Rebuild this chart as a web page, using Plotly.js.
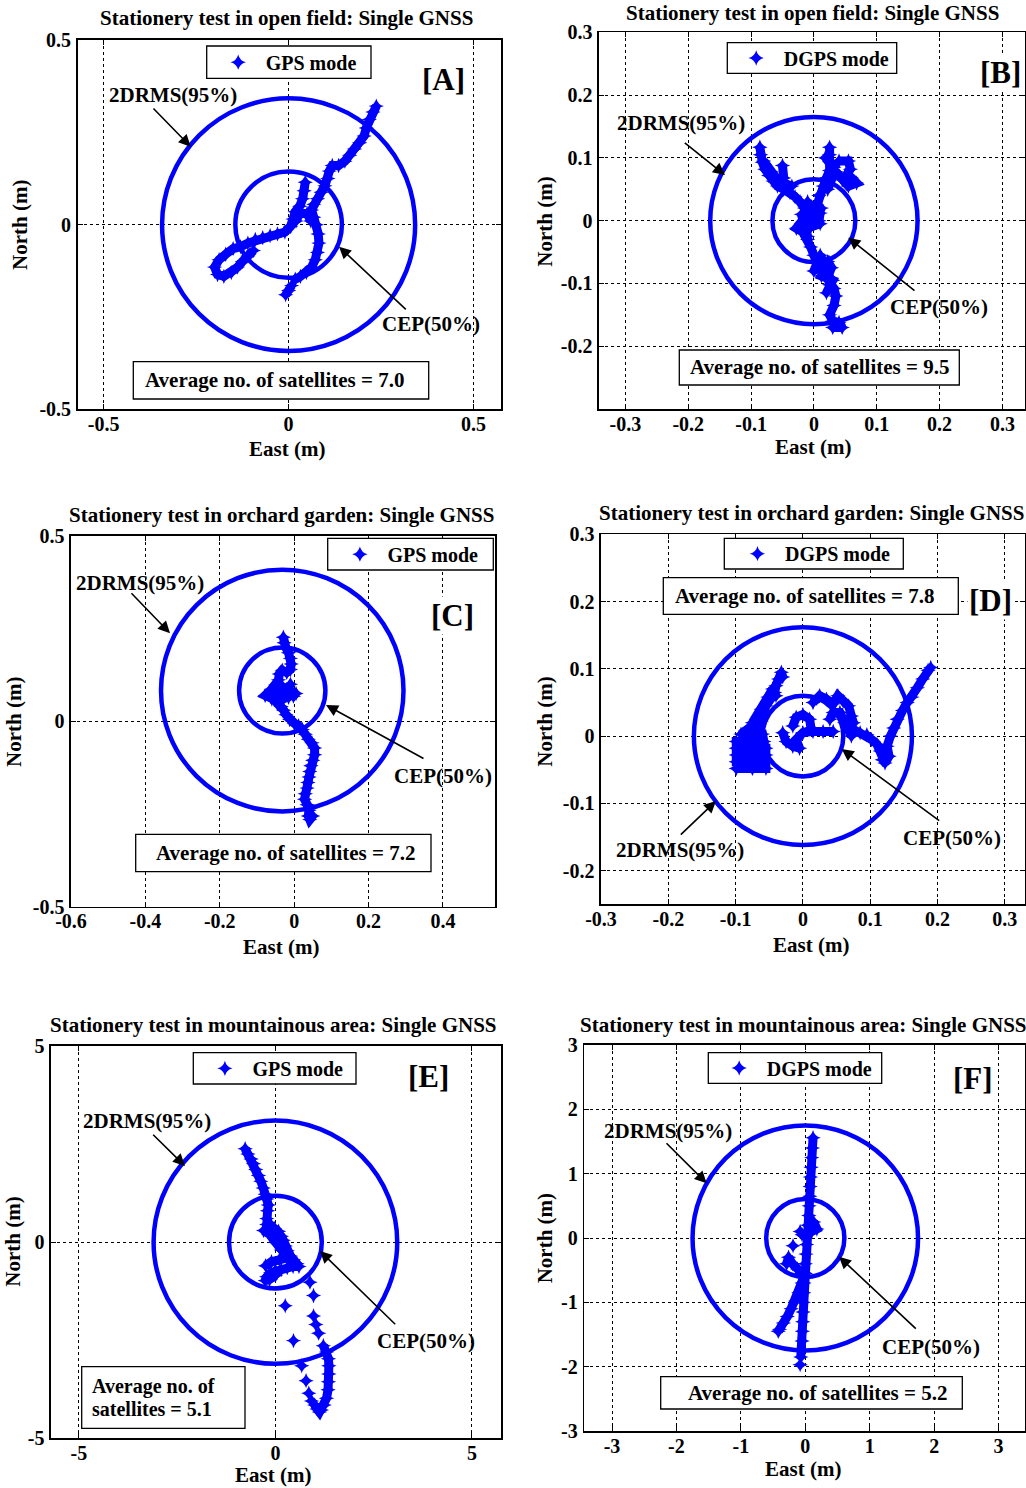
<!DOCTYPE html>
<html><head><meta charset="utf-8">
<script src="https://cdn.plot.ly/plotly-3.0.1.min.js"></script>
<style>body{margin:0;background:#fff}#chart{width:1026px;height:1488px}</style>
</head><body><div id="chart"></div>
<script>
// ---------------- DATA ----------------
const panelTitles = [
  'Stationery test in open field: Single GNSS',
  'Stationery test in open field: Single GNSS',
  'Stationery test in orchard garden: Single GNSS',
  'Stationery test in orchard garden: Single GNSS',
  'Stationery test in mountainous area: Single GNSS',
  'Stationery test in mountainous area: Single GNSS'
];
const modeNames = ['GPS mode','DGPS mode','GPS mode','DGPS mode','GPS mode','DGPS mode'];
const panelTags = ['[A]','[B]','[C]','[D]','[E]','[F]'];
const satelliteTexts = [
  ['Average no. of satellites = 7.0'],
  ['Average no. of satellites = 9.5'],
  ['Average no. of satellites = 7.2'],
  ['Average no. of satellites = 7.8'],
  ['Average no. of','satellites = 5.1'],
  ['Average no. of satellites = 5.2']
];
const drmsLabel = '2DRMS(95%)';
const cepLabel = 'CEP(50%)';
const eastTitle = 'East (m)';
const northTitle = 'North (m)';

// circle statistics (m)
const circleCenterEast  = [0, 0, -0.032, 0, 0, 0];
const circleCenterNorth = [0, 0, 0.083, 0, 0, 0];
const drmsRadius = [0.342, 0.165, 0.326, 0.162, 3.10, 1.75];
const cepRadius  = [0.144, 0.066, 0.116, 0.060, 1.18, 0.607];

// tick values / labels
const xTickVals = [
  [-0.5,0,0.5],
  [-0.3,-0.2,-0.1,0,0.1,0.2,0.3],
  [-0.6,-0.4,-0.2,0,0.2,0.4],
  [-0.3,-0.2,-0.1,0,0.1,0.2,0.3],
  [-5,0,5],
  [-3,-2,-1,0,1,2,3]
];
const xTickText = [
  ['-0.5','0','0.5'],
  ['-0.3','-0.2','-0.1','0','0.1','0.2','0.3'],
  ['-0.6','-0.4','-0.2','0','0.2','0.4'],
  ['-0.3','-0.2','-0.1','0','0.1','0.2','0.3'],
  ['-5','0','5'],
  ['-3','-2','-1','0','1','2','3']
];
const yTickVals = [
  [-0.5,0,0.5],
  [-0.3,-0.2,-0.1,0,0.1,0.2,0.3],
  [-0.5,0,0.5],
  [-0.2,-0.1,0,0.1,0.2,0.3],
  [-5,0,5],
  [-3,-2,-1,0,1,2,3]
];
const yTickText = [
  ['-0.5','0','0.5'],
  ['','-0.2','-0.1','0','0.1','0.2','0.3'],
  ['-0.5','0','0.5'],
  ['-0.2','-0.1','0','0.1','0.2','0.3'],
  ['-5','0','5'],
  ['-3','-2','-1','0','1','2','3']
];
const xRanges = [[-0.57,0.574],[-0.342,0.336],[-0.6,0.54],[-0.3,0.33],[-5.71,5.74],[-3.43,3.41]];
const yRanges = [[-0.5,0.5],[-0.3,0.3],[-0.5,0.5],[-0.25,0.3],[-5,5],[-3,3]];

// ---- position samples (East, North in m); null separates track pieces ----
const aEast = [0.237,0.228,0.218,0.210,0.204,0.192,0.178,0.165,0.152,0.135,0.118,0.110,0.106,0.098,0.088,0.078,0.068,0.062,0.068,0.075,0.080,0.082,0.078,0.072,0.062,0.048,0.032,0.018,
  null,0.045,0.042,0.038,0.030,0.018,0.012,0.005,-0.010,-0.030,-0.050,-0.070,-0.090,-0.110,-0.130,-0.150,-0.170,-0.188,-0.200,-0.192,-0.175,-0.155,-0.138,-0.125,-0.110,-0.095,
  null,0.020,0.030,0.050,0.060,
  null,0.008,0.000,-0.008];
const aNorth = [0.321,0.305,0.285,0.262,0.240,0.222,0.205,0.188,0.172,0.160,0.160,0.145,0.125,0.105,0.088,0.070,0.055,0.040,0.020,0.000,-0.025,-0.050,-0.075,-0.095,-0.115,-0.130,-0.140,-0.148,
  null,0.115,0.092,0.070,0.050,0.035,0.015,-0.005,-0.020,-0.025,-0.030,-0.035,-0.040,-0.050,-0.060,-0.065,-0.080,-0.095,-0.115,-0.135,-0.140,-0.130,-0.115,-0.100,-0.085,-0.070,
  null,0.010,0.030,0.030,0.010,
  null,-0.165,-0.178,-0.190];

const bEast = [-0.086,-0.085,-0.082,-0.078,-0.072,-0.065,-0.058,-0.048,-0.038,-0.030,-0.022,-0.015,-0.012,-0.020,-0.028,-0.018,-0.010,-0.005,0.000,0.005,0.000,0.012,0.022,0.028,0.022,0.025,0.032,0.035,0.032,0.025,0.030,0.040,0.045,0.030,
  null,-0.050,-0.048,
  null,-0.080,-0.068,-0.060,-0.048,-0.035,
  null,0.025,0.025,0.028,0.025,0.020,0.015,0.008,0.005,0.010,0.008,
  null,0.018,0.032,0.030,0.022,
  null,0.040,0.055,0.058,0.050,0.060,0.068,0.055,0.045,0.035,
  null,-0.010,0.000,0.012,0.000,-0.005,0.010,-0.020,-0.010,
  null,0.010,0.020,0.012,0.030,0.020];
const bNorth = [0.117,0.105,0.093,0.082,0.072,0.063,0.055,0.050,0.045,0.038,0.030,0.020,0.008,-0.005,-0.012,-0.018,-0.030,-0.042,-0.055,-0.068,-0.080,-0.070,-0.065,-0.075,-0.090,-0.102,-0.108,-0.120,-0.135,-0.150,-0.160,-0.162,-0.170,-0.170,
  null,0.088,0.068,
  null,0.095,0.078,0.068,0.060,0.055,
  null,0.117,0.105,0.093,0.080,0.068,0.055,0.040,0.025,0.012,0.000,
  null,0.100,0.085,0.070,0.050,
  null,0.095,0.095,0.082,0.070,0.068,0.060,0.055,0.065,0.078,
  null,0.030,0.015,0.020,0.000,-0.010,-0.005,0.010,-0.025,
  null,-0.055,-0.075,-0.088,-0.095,-0.115];

const cEast = [-0.029,-0.027,-0.022,-0.015,-0.010,-0.008,-0.010,-0.020,-0.032,-0.040,-0.042,-0.050,-0.062,-0.078,-0.060,-0.045,-0.030,-0.015,-0.002,0.005,-0.008,-0.025,-0.040,-0.050,-0.045,-0.035,-0.028,-0.022,-0.012,0.000,0.012,0.022,0.030,0.038,0.048,0.055,0.055,0.050,0.045,0.042,0.040,0.037,0.035,0.030,0.028,0.035,0.040,0.038,0.042,0.050,
  null,-0.040,-0.030,-0.020,-0.010];
const cNorth = [0.227,0.212,0.198,0.185,0.170,0.155,0.140,0.132,0.138,0.128,0.112,0.098,0.085,0.070,0.060,0.055,0.060,0.065,0.068,0.075,0.080,0.085,0.080,0.065,0.048,0.040,0.030,0.018,0.005,-0.005,-0.012,-0.022,-0.035,-0.048,-0.058,-0.072,-0.090,-0.105,-0.120,-0.135,-0.150,-0.165,-0.180,-0.195,-0.210,-0.225,-0.240,-0.255,-0.265,-0.255,
  null,0.100,0.090,0.080,0.100];

const dEast = [-0.099,-0.075,-0.055,-0.055,-0.075,-0.099,-0.099,-0.075,-0.055,-0.055,-0.075,-0.099,-0.099,-0.075,-0.058,-0.060,-0.078,-0.092,-0.080,-0.068,-0.062,-0.060,-0.055,-0.048,-0.042,-0.040,-0.036,-0.032,-0.030,
  null,-0.075,-0.062,-0.052,-0.045,-0.040,
  null,-0.030,-0.025,-0.015,-0.005,-0.010,0.000,0.015,0.030,0.045,
  null,-0.015,-0.010,0.000,0.010,0.012,
  null,0.015,0.025,0.035,0.045,0.052,0.060,0.068,0.072,0.075,0.068,0.072,0.062,0.055,0.045,0.040,
  null,0.075,0.085,0.095,0.102,0.110,0.115,0.118,0.122,0.128,0.125,0.130,0.135,0.140,0.148,0.155,0.162,0.170,0.178,0.186,0.190];
const dNorth = [-0.048,-0.048,-0.048,-0.038,-0.038,-0.038,-0.028,-0.028,-0.028,-0.018,-0.018,-0.018,-0.008,-0.008,-0.008,0.003,0.003,0.003,0.012,0.012,0.022,0.032,0.045,0.055,0.065,0.075,0.085,0.095,0.088,
  null,0.020,0.040,0.058,0.070,0.060,
  null,0.005,-0.008,-0.015,-0.018,-0.005,0.005,0.007,0.007,0.007,
  null,0.015,0.028,0.032,0.025,0.012,
  null,0.050,0.060,0.055,0.048,0.060,0.052,0.045,0.030,0.020,0.010,0.000,0.020,0.035,0.035,0.025,
  null,0.010,0.005,0.002,-0.005,-0.012,-0.022,-0.035,-0.040,-0.030,-0.015,0.000,0.012,0.025,0.038,0.050,0.058,0.072,0.085,0.098,0.102];

const eEast = [-0.77,-0.70,-0.62,-0.56,-0.50,-0.43,-0.37,-0.31,-0.26,-0.22,-0.18,-0.20,-0.22,-0.22,-0.10,-0.02,0.08,0.15,0.20,0.25,0.30,0.38,0.46,0.55,0.60,0.45,0.30,0.15,0.00,-0.12,-0.22,-0.26,-0.15,0.00,
  null,-0.30,-0.15,0.00,0.15,0.30,0.42,
  null,-0.25,-0.10,0.10,0.30,
  null,1.22,1.30,1.35,1.36,1.36,1.35,1.34,1.30,1.24,1.17,1.12,1.06,1.00,
  null,0.25,null,0.88,null,0.97,null,0.97,null,1.03,null,1.10,null,0.46,null,0.67,null,0.78,null,0.85,null,0.92];
const eNorth = [2.38,2.25,2.12,2.00,1.85,1.70,1.55,1.38,1.22,1.10,0.95,0.80,0.60,0.45,0.42,0.35,0.28,0.15,0.05,-0.10,-0.22,-0.35,-0.45,-0.55,-0.62,-0.62,-0.65,-0.70,-0.72,-0.78,-0.88,-0.98,-0.95,-0.85,
  null,0.30,0.20,0.00,-0.20,-0.35,-0.50,
  null,-0.60,-0.50,-0.45,-0.40,
  null,-2.64,-2.80,-2.97,-3.15,-3.36,-3.56,-3.76,-3.98,-4.15,-4.28,-4.33,-4.25,-4.15,
  null,-1.62,null,-1.02,null,-1.36,null,-1.88,null,-2.10,null,-2.32,null,-2.51,null,-3.15,null,-3.53,null,-3.85,null,-4.05];

const fEast = [0.12,0.11,0.10,0.09,0.08,0.075,0.07,0.06,0.055,0.04,0.03,0.02,0.01,0.00,-0.01,-0.02,-0.025,-0.03,-0.035,-0.04,-0.045,-0.05,-0.06,-0.07,
  null,-0.08,
  null,0.00,-0.05,-0.10,-0.15,-0.22,-0.28,-0.34,-0.40,-0.42,
  null,0.13,0.18,0.10,
  null,-0.08,-0.05,
  null,-0.19,
  null,-0.29,-0.26,-0.20,-0.12,-0.05];
const fNorth = [1.56,1.40,1.25,1.10,0.95,0.80,0.65,0.50,0.35,0.20,0.05,-0.10,-0.25,-0.40,-0.55,-0.70,-0.85,-1.00,-1.15,-1.30,-1.45,-1.60,-1.75,-1.85,
  null,-1.97,
  null,-0.55,-0.70,-0.85,-0.98,-1.10,-1.22,-1.32,-1.42,-1.45,
  null,0.25,0.14,0.10,
  null,0.10,0.05,
  null,-0.12,
  null,-0.40,-0.30,-0.40,-0.48,-0.55];

const eastData  = [aEast, bEast, cEast, dEast, eEast, fEast];
const northData = [aNorth, bNorth, cNorth, dNorth, eNorth, fNorth];

// ---------------- LAYOUT (pixel placement) ----------------
const W = 1026, H = 1488;
const px = x => x / W, py = y => 1 - y / H;
const FF = '"Liberation Serif","Times New Roman",Times,serif';
const BLUE = '#0000ff';
const FS = 21, TICKFS = 20, LEGFS = 20;

const panels = [
  {frame:[77.7,501,40,409.3], title:[286.7,18.3], east:[287,449], north:[20,225], legendBox:[206.7,46,371,78.3], legendMarkerX:240, tag:[443.3,80], drmsText:[172.7,95], drmsArrow:[152,107,190.7,146.7], cepText:[431.3,324], cepArrow:[407.3,310.7,339,246.7], box:[133.3,361.7,428.7,399], boxTextLeft:143},
  {frame:[599,1025,32.3,409], title:[812.3,13.3], east:[812.7,446.7], north:[545,221.7], legendBox:[727.3,42.7,896.7,73.3], legendMarkerX:758, tag:[1000,72.7], drmsText:[680.5,123.3], drmsArrow:[683.3,141.7,725,175], cepText:[939,306.7], cepArrow:[916,291.7,848.3,237.7], box:[679.3,350,959.3,385], boxTextLeft:688},
  {frame:[71,495,536,906.7], title:[281,515], east:[281,946.7], north:[13.3,721.7], legendBox:[327.7,538.3,493.3,570], legendMarkerX:361.7, tag:[452.7,615], drmsText:[140,583.3], drmsArrow:[130,591.7,170,633.3], cepText:[443.3,775.7], cepArrow:[425,759.3,326,705], box:[135.7,834.3,431,871.7], boxTextLeft:154.3},
  {frame:[601,1025,534.3,904.3], title:[811.7,513.3], east:[811,945], north:[545,721.7], legendBox:[724.3,538.3,903.3,569], legendMarkerX:759.3, tag:[990,600], drmsText:[680,850], drmsArrow:[679.3,836,716,801], cepText:[952,837.7], cepArrow:[940.7,821.7,841.7,749], box:[663.3,577.7,958.3,614.3], boxTextLeft:672.7},
  {frame:[51,501,1046,1438.3], title:[273.3,1025], east:[273.3,1474.5], north:[13,1241.7], legendBox:[193.3,1052.7,356,1084], legendMarkerX:226.7, tag:[428.3,1076], drmsText:[146.7,1120.7], drmsArrow:[151.7,1133.3,185,1166], cepText:[426.3,1341], cepArrow:[396.7,1325.7,320,1251], box:[81.7,1366.7,245,1428.3], boxTextLeft:90},
  {frame:[584.3,1025,1045,1431], title:[803.3,1025], east:[803.3,1469.3], north:[545,1238.3], legendBox:[708.3,1052.7,881.7,1083.3], legendMarkerX:741, tag:[973.3,1078.3], drmsText:[668.3,1131], drmsArrow:[665,1141.7,706.7,1183.3], cepText:[931,1346.7], cepArrow:[917.3,1330,839,1256.7], box:[660.7,1376.7,962.3,1409], boxTextLeft:686}
];

const font = (size) => ({family: FF, size: size, color: '#000', weight: 'bold'});
const traces = [], annotations = [], shapes = [];
const layout = {
  width: W, height: H, margin: {l:0, r:0, t:0, b:0},
  paper_bgcolor: '#fff', plot_bgcolor: '#fff', showlegend: true,
  annotations, shapes
};

function txt(x, y, text, size, extra) {
  return Object.assign({xref:'paper', yref:'paper', x:px(x), y:py(y), text:text, showarrow:false,
    xanchor:'center', yanchor:'middle', font:font(size)}, extra || {});
}
function arrow(tx, ty, hx, hy) {
  return {xref:'paper', yref:'paper', x:px(hx), y:py(hy), ax:tx-hx, ay:ty-hy, text:'',
    showarrow:true, arrowhead:2, arrowsize:1.5, arrowwidth:1.6, arrowcolor:'#000', standoff:0};
}
function rect(l, t, r, b) {
  return {type:'rect', xref:'paper', yref:'paper', x0:px(l), x1:px(r), y0:py(b), y1:py(t),
    line:{color:'#000', width:1.3}, fillcolor:'#fff', layer:'above'};
}

panels.forEach((p, i) => {
  const sfx = i === 0 ? '' : String(i + 1);
  const xa = 'x' + sfx, ya = 'y' + sfx;
  const [l, r, t, b] = p.frame;
  const common = {showgrid:true, griddash:'dot', gridcolor:'#000', gridwidth:1, zeroline:false,
    showline:true, linecolor:'#000', linewidth:1.6, mirror:'ticks', ticks:'inside', ticklen:5,
    tickcolor:'#000', tickwidth:1, tickfont:font(TICKFS), fixedrange:true, tickmode:'array'};
  layout['xaxis' + sfx] = Object.assign({}, common, {domain:[px(l), px(r)], range:xRanges[i],
    tickvals:xTickVals[i], ticktext:xTickText[i], anchor:ya, ticklabelstandoff:-4});
  layout['yaxis' + sfx] = Object.assign({}, common, {domain:[py(b), py(t)], range:yRanges[i],
    tickvals:yTickVals[i], ticktext:yTickText[i], anchor:xa, ticklabelstandoff:1});

  // legend: frame drawn as a shape, entry from a real plotly legend
  const [ll, lt, lr, lb] = p.legendBox;
  shapes.push(rect(ll, lt, lr, lb));
  const legKey = 'legend' + sfx;
  layout[legKey] = {x:px(p.legendMarkerX - 29.3), y:py((lt + lb) / 2), xanchor:'left', yanchor:'middle',
    bgcolor:'rgba(0,0,0,0)', borderwidth:0, font:font(LEGFS), itemwidth:45, tracegroupgap:0};

  traces.push({type:'scatter', mode:'lines', x:eastData[i], y:northData[i], xaxis:xa, yaxis:ya,
    line:{color:BLUE, width:9}, showlegend:false, hoverinfo:'skip', connectgaps:false});
  traces.push({type:'scatter', mode:'markers', x:eastData[i], y:northData[i], xaxis:xa, yaxis:ya,
    name:modeNames[i], legend:legKey, showlegend:true,
    marker:{symbol:'star-diamond', size:11, color:BLUE, line:{width:0}}});

  // statistic circles
  [drmsRadius[i], cepRadius[i]].forEach(rad => {
    shapes.push({type:'circle', xref:xa, yref:ya,
      x0:circleCenterEast[i] - rad, x1:circleCenterEast[i] + rad,
      y0:circleCenterNorth[i] - rad, y1:circleCenterNorth[i] + rad,
      line:{color:BLUE, width:4.5}, layer:'above'});
  });

  // satellites box
  const [bl, bt, br, bb] = p.box;
  shapes.push(rect(bl, bt, br, bb));
  const lines = satelliteTexts[i];
  const mid = (bt + bb) / 2, lh = 23;
  const boxFs = lines.length > 1 ? 20 : FS;
  lines.forEach((s, k) => {
    const yy = mid + (k - (lines.length - 1) / 2) * lh;
    annotations.push(txt(p.boxTextLeft, yy, s, boxFs, {xanchor:'left'}));
  });

  annotations.push(txt(p.title[0], p.title[1], panelTitles[i], FS));
  annotations.push(txt(p.east[0], p.east[1], eastTitle, FS));
  annotations.push(txt(p.north[0], p.north[1], northTitle, FS, {textangle:-90}));
  annotations.push(txt(p.tag[0], p.tag[1], panelTags[i], 31, {bgcolor:'#fff'}));
  annotations.push(txt(p.drmsText[0], p.drmsText[1], drmsLabel, FS));
  annotations.push(txt(p.cepText[0], p.cepText[1], cepLabel, FS));
  annotations.push(arrow(...p.drmsArrow));
  annotations.push(arrow(...p.cepArrow));
});

Plotly.newPlot('chart', traces, layout, {staticPlot:true, displayModeBar:false});
</script>
</body></html>
